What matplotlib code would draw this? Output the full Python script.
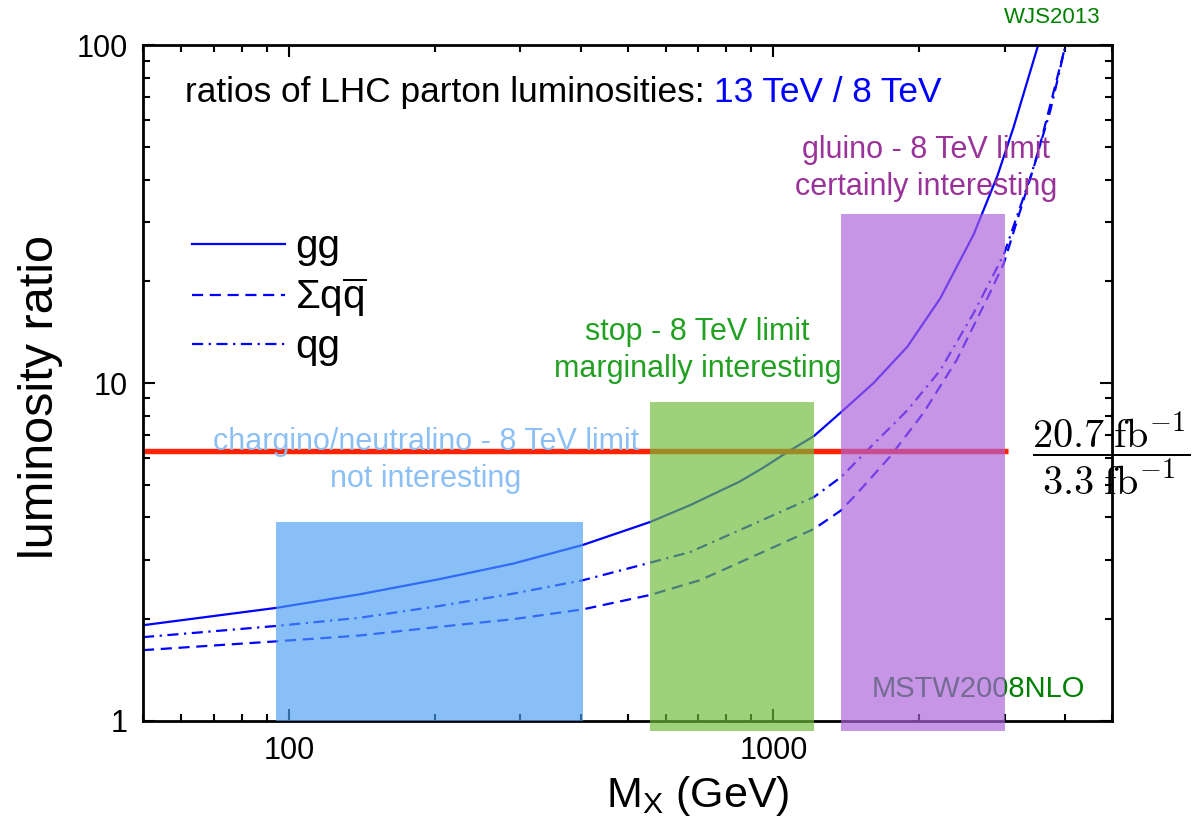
import matplotlib
matplotlib.use("Agg")
import matplotlib.pyplot as plt
from matplotlib.lines import Line2D
from matplotlib.patches import Rectangle
from matplotlib.ticker import LogLocator, NullFormatter

plt.rcParams.update(
    {
        "font.family": ["Liberation Sans", "DejaVu Sans"],
        "mathtext.fontset": "custom",
        "mathtext.rm": "Liberation Sans",
        "mathtext.it": "Liberation Sans:italic",
        "mathtext.bf": "Liberation Sans:bold",
        "axes.linewidth": 2.0,
    }
)

# Luminosity ratio curves (M_X in GeV)
gg_mass = [50, 94, 140, 205, 290, 405, 557, 673, 850, 950, 1070, 1213, 1380, 1610, 1890,
           2210, 2590, 2900, 3130, 3520]
gg_ratio = [1.92, 2.16, 2.37, 2.63, 2.92, 3.32, 3.88, 4.35, 5.1, 5.6, 6.25, 6.97, 8.2, 10.0, 12.8,
            17.8, 27.5, 41.0, 57.0, 100.0]

qqbar_mass = [50, 94, 140, 205, 290, 405, 557, 706, 900, 1213, 1380, 1490, 1740, 2040, 2390,
              2800, 2990, 3500, 4010]
qqbar_ratio = [1.62, 1.72, 1.79, 1.90, 2.0, 2.14, 2.36, 2.61, 3.05, 3.70, 4.2, 4.72, 6.05, 8.15, 11.7,
               18.5, 22.6, 46.7, 100.0]

qg_mass = [50, 94, 140, 205, 290, 405, 557, 673, 900, 1213, 1380, 1610, 1890, 2210, 2590,
           2990, 3400, 3730, 4010]
qg_ratio = [1.77, 1.91, 2.02, 2.19, 2.38, 2.61, 2.94, 3.16, 3.8, 4.60, 5.27, 6.6, 8.3, 10.9, 16.1,
            24.0, 41.0, 64.0, 100.0]

# integrated luminosity ratio 20.7 fb^-1 / 3.3 fb^-1
lumi_mass = [50, 3050]
lumi_ratio = [20.7 / 3.3, 20.7 / 3.3]

# mass windows of the 8 TeV limits
box_left = [94, 557, 1380]
box_right = [405, 1213, 3010]
box_bottom = [1.0, 0.934, 0.934]
box_top = [3.88, 8.78, 31.6]
box_colors = ["#4CA0F3", "#6DBC39", "#AC61DB"]
box_labels = [
    "chargino/neutralino - 8 TeV limit\nnot interesting",
    "stop - 8 TeV limit\nmarginally interesting",
    "gluino - 8 TeV limit\ncertainly interesting",
]
box_text_colors = ["#8CC0F5", "#22A022", "#993399"]
box_text_pos = [(0.292, 0.386), (0.572, 0.548), (0.808, 0.818)]

fig = plt.figure(figsize=(12.04, 8.19), dpi=100)
ax = fig.add_axes([0.1188, 0.1197, 0.8048, 0.8253])

blue = "#0000FF"
ax.plot(gg_mass, gg_ratio, color=blue, lw=1.6, zorder=2)
ax.plot(qqbar_mass, qqbar_ratio, color=blue, lw=1.6, dashes=(5, 3), zorder=2)
ax.plot(qg_mass, qg_ratio, color=blue, lw=1.6, dashes=(5, 2.5, 1, 2.5), zorder=2)
ax.plot(lumi_mass, lumi_ratio, color="#FF2200", lw=3.9, solid_capstyle="butt", zorder=2)

ax.text(0.862, 0.047, "MSTW2008NLO", transform=ax.transAxes, ha="center", va="center",
        fontsize=21, color="#008000", zorder=1)

for x0, x1, y0, y1, c in zip(box_left, box_right, box_bottom, box_top, box_colors):
    ax.add_patch(Rectangle((x0, y0), x1 - x0, y1 - y0, facecolor=c, edgecolor="none",
                           alpha=0.67, zorder=3, clip_on=False))

for label, c, (tx, ty) in zip(box_labels, box_text_colors, box_text_pos):
    ax.text(tx, ty, label, transform=ax.transAxes, ha="center", va="center",
            fontsize=22, color=c, linespacing=1.3, zorder=4)

t = ax.text(0.0433, 0.930, "ratios of LHC parton luminosities: ", transform=ax.transAxes,
            ha="left", va="center", fontsize=25.4, color="black")
ax.annotate("13 TeV / 8 TeV", xy=(1, 0), xycoords=t, ha="left", va="bottom",
            fontsize=25.4, color=blue)

handles = [
    Line2D([], [], color=blue, lw=1.6),
    Line2D([], [], color=blue, lw=1.6, dashes=(5, 3)),
    Line2D([], [], color=blue, lw=1.6, dashes=(5, 2.5, 1, 2.5)),
]
labels = ["gg", r"$\mathrm{\Sigma q}\overline{\mathrm{q}}$", "qg"]
ax.legend(handles, labels, loc="upper left", bbox_to_anchor=(0.0506, 0.729), frameon=False,
          fontsize=29, handlelength=2.3, handletextpad=0.25, labelspacing=0.22,
          borderpad=0, borderaxespad=0)

ax.set_xscale("log")
ax.set_yscale("log")
ax.set_xlim(50, 5000)
ax.set_ylim(1, 100)
ax.set_xticks([100, 1000])
ax.set_xticklabels(["100", "1000"])
ax.set_yticks([1, 10, 100])
ax.set_yticklabels(["1", "10", "100"])
ax.xaxis.set_minor_locator(LogLocator(base=10, subs=range(2, 10)))
ax.yaxis.set_minor_locator(LogLocator(base=10, subs=range(2, 10)))
ax.xaxis.set_minor_formatter(NullFormatter())
ax.yaxis.set_minor_formatter(NullFormatter())
ax.tick_params(which="both", direction="in", top=True, right=True, labelsize=22)
ax.tick_params(which="major", length=8.6, width=1.5, pad=11)
ax.tick_params(which="minor", length=5, width=1.5)

ax.set_xlabel(r"M$_\mathrm{X}$ (GeV)", fontsize=31)
ax.set_ylabel("luminosity ratio", fontsize=35)
ax.xaxis.set_label_coords(0.572, -0.078)
ax.yaxis.set_label_coords(-0.083, 0.479)

fig.text(0.874, 0.979, "WJS2013", ha="center", va="center", fontsize=16, color="#008000")
fig.text(0.857, 0.445, r"$\dfrac{20.7\;\mathrm{fb}^{-1}}{3.3\;\mathrm{fb}^{-1}}$",
         math_fontfamily="cm", ha="left", va="center", fontsize=29, zorder=10)

fig.savefig("out.png", dpi=100)
